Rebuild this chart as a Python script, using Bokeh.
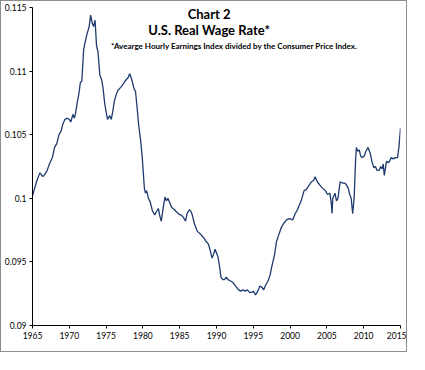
from bokeh.plotting import figure
from bokeh.models import Range1d, FixedTicker, Label, ColumnDataSource
from bokeh.embed import file_html
from bokeh.resources import INLINE

years = [1965.0, 1965.3, 1965.6, 1966.0, 1966.4, 1966.7, 1967.0, 1967.3, 1967.7, 1968.0,
         1968.3, 1968.6, 1968.9, 1969.1, 1969.4, 1969.75, 1970.0, 1970.2, 1970.5, 1970.7,
         1970.85, 1971.1, 1971.3, 1971.5, 1971.7, 1971.95, 1972.2, 1972.4, 1972.7, 1972.9,
         1973.1, 1973.3, 1973.5, 1973.7, 1973.9, 1974.15, 1974.4, 1974.6, 1974.8, 1975.0,
         1975.2, 1975.5, 1975.7, 1975.9, 1976.1, 1976.4, 1976.6, 1976.8, 1977.1, 1977.45,
         1977.7, 1978.0, 1978.2, 1978.5, 1978.8, 1979.0, 1979.2, 1979.4, 1979.7, 1979.9,
         1980.2, 1980.35, 1980.5, 1980.75, 1981.0, 1981.3, 1981.6, 1981.8, 1982.1, 1982.3,
         1982.5, 1982.8, 1983.0, 1983.2, 1983.4, 1983.6, 1983.9, 1984.3, 1984.6, 1985.0,
         1985.2, 1985.5, 1985.8, 1986.0, 1986.3, 1986.5, 1986.7, 1987.0, 1987.4, 1987.8,
         1988.25, 1988.6, 1988.9, 1989.1, 1989.4, 1989.6, 1989.8, 1990.0, 1990.2, 1990.4,
         1990.6, 1990.85, 1991.1, 1991.3, 1991.6, 1991.9, 1992.2, 1992.6, 1993.0, 1993.3,
         1993.6, 1993.9, 1994.2, 1994.5, 1994.85, 1995.0, 1995.3, 1995.6, 1995.9, 1996.2,
         1996.4, 1996.7, 1997.0, 1997.3, 1997.5, 1997.7, 1997.9, 1998.15, 1998.5, 1998.8,
         1999.1, 1999.5, 1999.9, 2000.35, 2000.7, 2001.0, 2001.2, 2001.5, 2001.9, 2002.2,
         2002.55, 2002.9, 2003.2, 2003.4, 2003.7, 2004.1, 2004.4, 2004.8, 2005.1, 2005.4,
         2005.6, 2005.7, 2005.8, 2006.1, 2006.3, 2006.5, 2006.8, 2007.1, 2007.4, 2007.6,
         2007.9, 2008.1, 2008.3, 2008.5, 2008.7, 2008.9, 2009.0, 2009.2, 2009.4, 2009.6,
         2009.8, 2010.05, 2010.3, 2010.6, 2010.9, 2011.15, 2011.4, 2011.6, 2011.8, 2012.1,
         2012.3, 2012.5, 2012.65, 2012.8, 2013.1, 2013.4, 2013.75, 2014.0, 2014.3, 2014.6,
         2014.8, 2015.0]

real_wage = [0.1002, 0.1008, 0.1014, 0.1020, 0.1017, 0.1019, 0.1022, 0.1027, 0.1032, 0.1040,
             0.1043, 0.1050, 0.1053, 0.1058, 0.1062, 0.1063, 0.1062, 0.1060, 0.1066, 0.1063,
             0.1067, 0.1076, 0.1082, 0.1091, 0.1092, 0.1117, 0.1124, 0.1129, 0.1135, 0.1144,
             0.1138, 0.1135, 0.1140, 0.1120, 0.1115, 0.1097, 0.1093, 0.1086, 0.1075, 0.1068,
             0.1062, 0.1065, 0.1062, 0.1068, 0.1076, 0.1082, 0.1085, 0.1086, 0.1088, 0.1091,
             0.1093, 0.1095, 0.1098, 0.1093, 0.1086, 0.1084, 0.1072, 0.1059, 0.1045, 0.1033,
             0.1008, 0.1004, 0.1006, 0.1000, 0.0997, 0.0990, 0.0987, 0.0989, 0.0992, 0.0986,
             0.0982, 0.0994, 0.1001, 0.0998, 0.1000, 0.0997, 0.0993, 0.0991, 0.0989, 0.0987,
             0.0987, 0.0985, 0.0982, 0.0988, 0.0991, 0.0990, 0.0987, 0.0980, 0.0974, 0.0972,
             0.0969, 0.0966, 0.0964, 0.0960, 0.0953, 0.0956, 0.0960, 0.0957, 0.0954, 0.0947,
             0.0938, 0.0936, 0.0936, 0.0938, 0.0936, 0.0935, 0.0934, 0.0931, 0.0928, 0.0927,
             0.0928, 0.0927, 0.0928, 0.0926, 0.0926, 0.0927, 0.0924, 0.0927, 0.0931, 0.0930,
             0.0928, 0.0932, 0.0935, 0.0940, 0.0946, 0.0951, 0.0956, 0.0966, 0.0972, 0.0977,
             0.0980, 0.0983, 0.0984, 0.0983, 0.0988, 0.0991, 0.0994, 0.0998, 0.1006, 0.1007,
             0.1010, 0.1013, 0.1014, 0.1017, 0.1013, 0.1010, 0.1008, 0.1006, 0.1003, 0.1004,
             0.0996, 0.0988, 0.1000, 0.1004, 0.0998, 0.1000, 0.1013, 0.1012, 0.1012, 0.1011,
             0.1008, 0.1003, 0.1000, 0.0988, 0.1000, 0.1030, 0.1040, 0.1037, 0.1038, 0.1033,
             0.1032, 0.1033, 0.1037, 0.1040, 0.1035, 0.1028, 0.1024, 0.1025, 0.1022, 0.1022,
             0.1025, 0.1023, 0.1027, 0.1018, 0.1029, 0.1028, 0.1032, 0.1031, 0.1032, 0.1032,
             0.1041, 0.1055]

x_ticks = [1965, 1970, 1975, 1980, 1985, 1990, 1995, 2000, 2005, 2010, 2015]
y_ticks = [0.09, 0.095, 0.1, 0.105, 0.11, 0.115]
y_tick_labels = ["0.09", "0.095", "0.1", "0.105", "0.11", "0.115"]

title_1 = "Chart 2"
title_2 = "U.S. Real Wage Rate*"
note = "*Avearge Hourly Earnings Index divided by the Consumer Price Index."

FONT = "Lato"

p = figure(width=407, height=352, output_backend="svg", toolbar_location=None,
           x_range=Range1d(1965, 2015), y_range=Range1d(0.09, 0.115),
           min_border_left=29, min_border_right=8, min_border_top=6, min_border_bottom=28)
p.styles = {"border": "1px solid #8c8c8c"}
p.outline_line_color = None
p.xgrid.visible = False
p.ygrid.visible = False
p.background_fill_color = "white"
p.border_fill_color = "white"

src = ColumnDataSource(dict(x=years, y=real_wage))
p.line("x", "y", source=src, line_color="#1f3a6e", line_width=1.3)

for ax in (p.xaxis[0], p.yaxis[0]):
    ax.axis_line_color = "black"
    ax.axis_line_width = 1
    ax.major_tick_line_color = "black"
    ax.major_tick_out = 3
    ax.major_tick_in = 0
    ax.minor_tick_line_color = None
    ax.major_label_text_font = FONT
    ax.major_label_text_font_size = "8.5px"
    ax.major_label_text_color = "black"
    ax.major_label_standoff = 3

p.xaxis[0].ticker = FixedTicker(ticks=x_ticks)
p.yaxis[0].ticker = FixedTicker(ticks=y_ticks)
p.yaxis[0].major_label_overrides = {t: l for t, l in zip(y_ticks, y_tick_labels)}

p.add_layout(Label(x=1989.0, y=0.11449, text=title_1, text_font=FONT, text_font_size="13px",
                   text_font_style="bold", text_align="center", text_baseline="middle",
                   text_color="black"))
p.add_layout(Label(x=1989.0, y=0.11325, text=title_2, text_font=FONT, text_font_size="13px",
                   text_font_style="bold", text_align="center", text_baseline="middle",
                   text_color="black"))
p.add_layout(Label(x=1992.4, y=0.11195, text=note, text_font=FONT, text_font_size="8px",
                   text_font_style="bold", text_align="center", text_baseline="middle",
                   text_color="black"))

open("out.html", "w").write(file_html(p, INLINE))
